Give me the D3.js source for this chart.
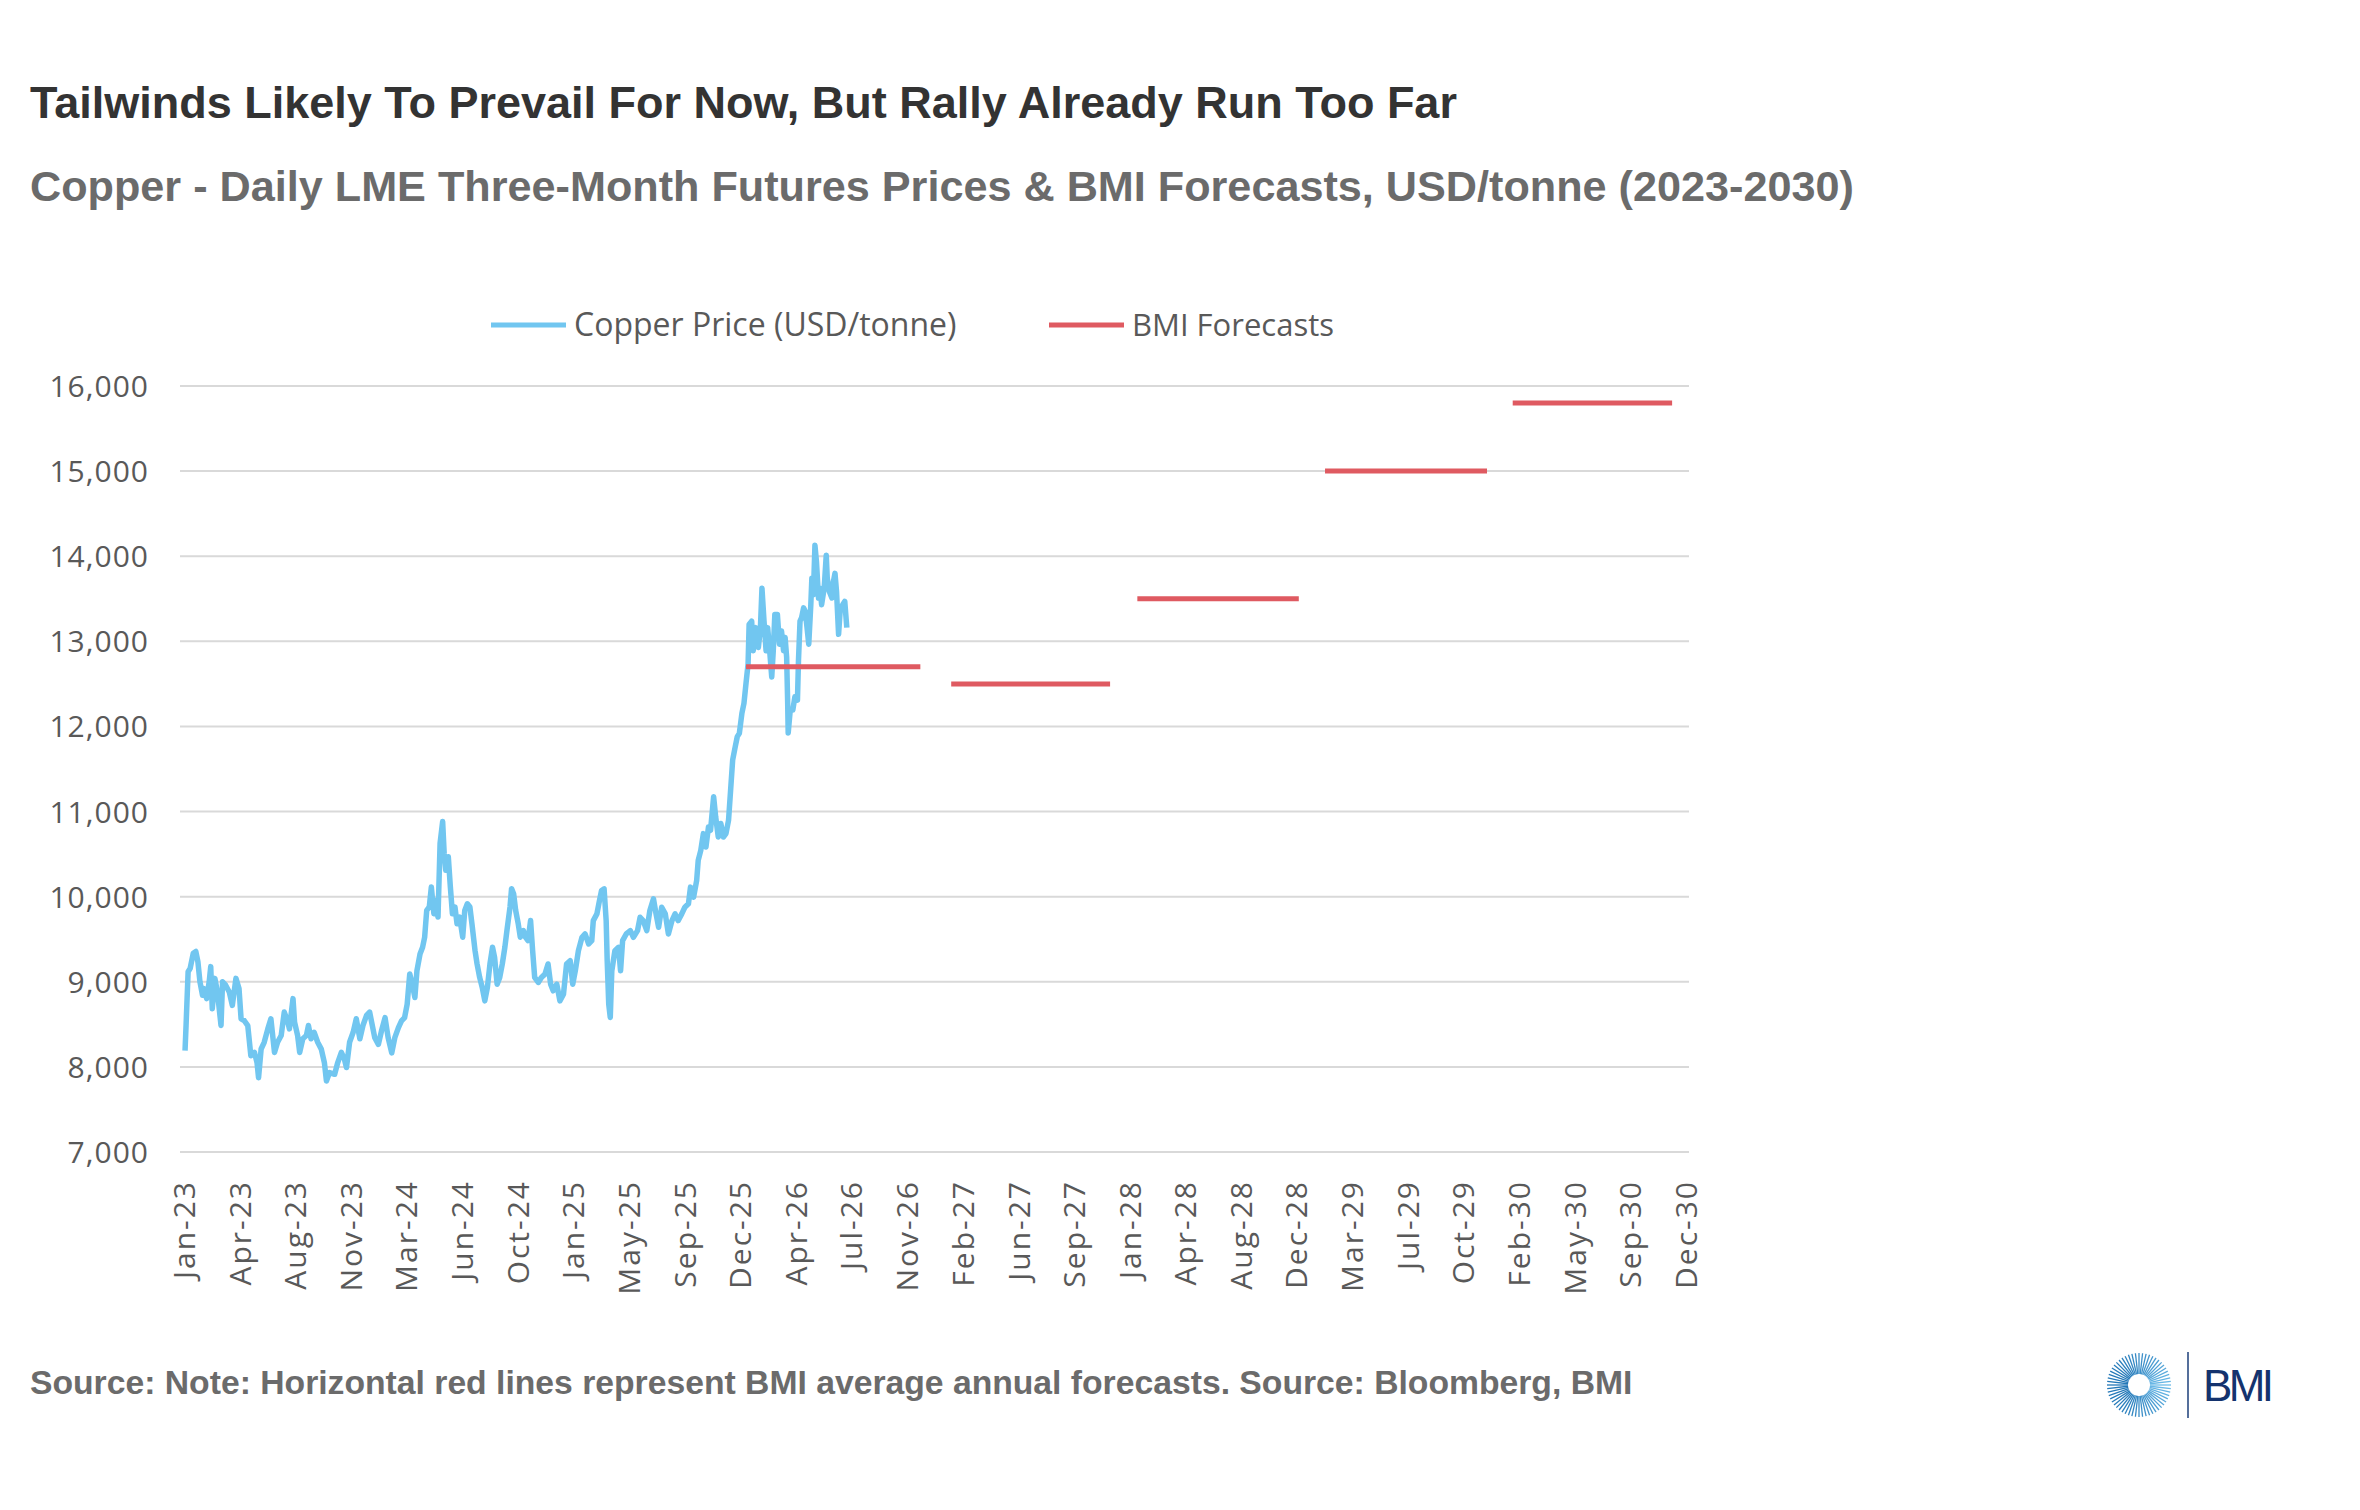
<!DOCTYPE html>
<html>
<head>
<meta charset="utf-8">
<script src="https://cdn.jsdelivr.net/npm/d3@7"></script>
<style>
  html, body { margin: 0; padding: 0; background: #ffffff; }
  svg text { font-family: "Liberation Sans", Arial, sans-serif; }
  .axis-label, .legend-label { font-family: "Open Sans", "Noto Sans", sans-serif; fill: #595959; }
</style>
</head>
<body>
<svg id="chart" width="2360" height="1510"></svg>
<script>
// ---- data ----

const priceDates = [
  "2023-01-03","2023-01-05","2023-01-09","2023-01-13","2023-01-19","2023-01-24","2023-01-28","2023-02-01",
  "2023-02-06","2023-02-09","2023-02-14","2023-02-19","2023-02-22","2023-02-25","2023-03-02","2023-03-07",
  "2023-03-14","2023-03-17","2023-03-23","2023-03-30","2023-04-05","2023-04-12","2023-04-18","2023-04-22",
  "2023-04-28","2023-05-05","2023-05-11","2023-05-18","2023-05-23","2023-05-26","2023-05-31","2023-06-06",
  "2023-06-13","2023-06-19","2023-06-26","2023-07-02","2023-07-09","2023-07-15","2023-07-22","2023-07-25",
  "2023-08-01","2023-08-04","2023-08-10","2023-08-14","2023-08-20","2023-08-27","2023-08-31","2023-09-05",
  "2023-09-11","2023-09-18","2023-09-25","2023-10-01","2023-10-05","2023-10-11","2023-10-21","2023-10-27",
  "2023-11-03","2023-11-09","2023-11-13","2023-11-19","2023-11-26","2023-12-02","2023-12-09","2023-12-15",
  "2023-12-22","2023-12-28",
  "2024-01-07","2024-01-14","2024-01-20","2024-01-27","2024-02-02","2024-02-09","2024-02-15","2024-02-22",
  "2024-02-28","2024-03-05","2024-03-10","2024-03-15","2024-03-20","2024-03-25","2024-03-29","2024-04-04",
  "2024-04-09","2024-04-13","2024-04-17","2024-04-22","2024-04-26","2024-05-01","2024-05-05","2024-05-09",
  "2024-05-13","2024-05-18","2024-05-21","2024-05-24","2024-05-29","2024-06-02","2024-06-06","2024-06-11",
  "2024-06-15","2024-06-20","2024-06-26","2024-06-30","2024-07-05","2024-07-10","2024-07-14","2024-07-20",
  "2024-07-24","2024-07-29","2024-08-03","2024-08-08","2024-08-13","2024-08-18","2024-08-23","2024-08-27",
  "2024-09-01","2024-09-06","2024-09-11","2024-09-16","2024-09-20","2024-09-26","2024-09-29","2024-10-03",
  "2024-10-07","2024-10-12","2024-10-16","2024-10-22","2024-10-26","2024-10-31","2024-11-05","2024-11-09",
  "2024-11-13","2024-11-20","2024-11-26","2024-12-03","2024-12-09","2024-12-14","2024-12-19","2024-12-26",
  "2025-01-01","2025-01-08","2025-01-14","2025-01-21","2025-01-26","2025-01-31","2025-02-06","2025-02-13",
  "2025-02-19","2025-02-26","2025-03-04","2025-03-07","2025-03-14","2025-03-19","2025-03-23","2025-03-28",
  "2025-04-01","2025-04-03","2025-04-06","2025-04-09","2025-04-12","2025-04-18","2025-04-25","2025-04-29",
  "2025-05-03","2025-05-10","2025-05-18","2025-05-24","2025-06-01","2025-06-06","2025-06-12","2025-06-19",
  "2025-06-25","2025-07-02","2025-07-07","2025-07-12","2025-07-18","2025-07-25","2025-07-31","2025-08-07",
  "2025-08-13","2025-08-19","2025-08-26","2025-09-01","2025-09-08","2025-09-12","2025-09-18","2025-09-24",
  "2025-09-27","2025-10-02","2025-10-07","2025-10-12","2025-10-17","2025-10-21","2025-10-27","2025-10-31",
  "2025-11-05","2025-11-10","2025-11-15","2025-11-20","2025-11-25","2025-11-29","2025-12-03","2025-12-08",
  "2025-12-12","2025-12-16","2025-12-21","2025-12-25","2025-12-29",
  "2026-01-02","2026-01-04","2026-01-09","2026-01-12","2026-01-17","2026-01-22","2026-01-26","2026-01-29",
  "2026-02-02","2026-02-06","2026-02-09","2026-02-12","2026-02-17","2026-02-20","2026-02-23","2026-02-28",
  "2026-03-04","2026-03-08","2026-03-12","2026-03-15","2026-03-18","2026-03-20","2026-03-21","2026-03-25",
  "2026-03-30","2026-04-03","2026-04-08","2026-04-10","2026-04-13","2026-04-16","2026-04-20","2026-04-23",
  "2026-04-26","2026-04-30","2026-05-04","2026-05-06","2026-05-09","2026-05-12","2026-05-15","2026-05-19",
  "2026-05-22","2026-05-25","2026-05-30","2026-06-03","2026-06-05","2026-06-09","2026-06-14","2026-06-17",
  "2026-06-20","2026-06-23","2026-06-27","2026-06-30","2026-07-05","2026-07-09","2026-07-13"
];

const priceValues = [
  8190, 8486, 9118, 9158, 9336, 9356, 9237, 9000,
  8842, 8920, 8802, 9000, 9178, 8684, 9040, 8880,
  8486, 9000, 8960, 8880, 8723, 9040, 8920, 8565,
  8545, 8486, 8130, 8170, 8051, 7873, 8210, 8289,
  8447, 8565, 8170, 8289, 8368, 8644, 8526, 8447,
  8802, 8526, 8368, 8170, 8330, 8368, 8486, 8330,
  8407, 8289, 8209, 8051, 7834, 7933, 7913, 8051,
  8170, 8090, 7992, 8289, 8407, 8565, 8330, 8486,
  8605, 8644,
  8343, 8264, 8421, 8579, 8343, 8165, 8343, 8461,
  8540, 8579, 8736, 9091, 8972, 8815, 9130, 9327,
  9406, 9524, 9839, 9878, 10114, 9799, 9957, 9760,
  10626, 10882, 10508, 10311, 10469, 10114, 9799, 9878,
  9681, 9760, 9524, 9839, 9917, 9878, 9681, 9366,
  9209, 9051, 8933, 8776, 8933, 9209, 9406, 9287,
  8972, 9051, 9209, 9406, 9602, 9878, 10094, 10035,
  9839, 9681, 9524, 9602, 9524, 9484, 9720, 9366,
  9051, 8992, 9051, 9090, 9209, 8972, 8894, 8972,
  8776, 8855, 9208, 9248, 8972, 9130, 9365, 9523,
  9562, 9444, 9483, 9719, 9798, 9955, 10073, 10092,
  9719, 9248, 8737, 8580, 9130, 9365, 9405, 9130,
  9483, 9562, 9601, 9523, 9601, 9758, 9719, 9601,
  9837, 9975, 9798, 9640, 9876, 9798, 9562, 9719,
  9798, 9719, 9798, 9876, 9916, 10112, 9994, 10190,
  10426, 10544, 10741, 10583, 10819, 10780, 11173, 10937,
  10701, 10859, 10701, 10741, 10898, 11251, 11605, 11762,
  11880, 11919, 12155, 12273, 12509,
  12735, 13199, 13238, 12890, 13161, 12928, 13161, 13625,
  13238, 12890, 13161, 12967, 12580, 12890, 13315, 13315,
  12967, 13122, 12890, 13045, 12812, 12271, 11923, 12193,
  12193, 12348, 12309, 12774, 13238, 13277, 13393, 13354,
  13199, 12967, 13431, 13741, 13547, 14128, 13934, 13509,
  13625, 13431, 13625, 14012, 13741, 13586, 13509, 13702,
  13799, 13586, 13083, 13354, 13431, 13470, 13161
];

// BMI average annual forecasts (drawn as flat segments)
const forecastYears  = [2026, 2027, 2028, 2029, 2030];
const forecastValues = [12700, 12500, 13500, 15000, 15800];
const forecastStart  = ["2025-12-29", "2027-02-01", "2028-01-29", "2029-01-28", "2030-01-28"];
const forecastEnd    = ["2026-12-03", "2027-12-07", "2028-12-08", "2029-12-09", "2030-12-04"];

// axis ticks
const xTickDates = [
  "2023-01-01","2023-04-19","2023-08-05","2023-11-21","2024-03-08","2024-06-25","2024-10-11",
  "2025-01-27","2025-05-15","2025-09-01","2025-12-18","2026-04-05","2026-07-22","2026-11-07",
  "2027-02-23","2027-06-12","2027-09-28","2028-01-14","2028-04-30","2028-08-17","2028-12-03",
  "2029-03-22","2029-07-08","2029-10-24","2030-02-09","2030-05-29","2030-09-14","2030-12-31"
];
const yTicks = [7000, 8000, 9000, 10000, 11000, 12000, 13000, 14000, 15000, 16000];

const legendItems = ["Copper Price (USD/tonne)", "BMI Forecasts"];

const titleText    = "Tailwinds Likely To Prevail For Now, But Rally Already Run Too Far";
const subtitleText = "Copper - Daily LME Three-Month Futures Prices & BMI Forecasts, USD/tonne (2023-2030)";
const footerText   = "Source: Note: Horizontal red lines represent BMI average annual forecasts. Source: Bloomberg, BMI";

// ---- setup ----

const colorPrice = "#71c6f0";
const colorForecast = "#df5a61";
const colorGrid = "#d9d9d9";

const parseDate = d3.timeParse("%Y-%m-%d");

const svg = d3.select("svg#chart");

const x = d3.scaleTime()
  .domain([parseDate("2023-01-01"), parseDate("2030-12-31")])
  .range([184, 1686]);

const y = d3.scaleLinear()
  .domain([7000, 16000])
  .range([1152, 386]);

function renderTitles() {
  svg.append("text")
    .attr("x", 30).attr("y", 118)
    .attr("font-size", 45).attr("font-weight", "bold")
    .attr("fill", "#333333")
    .text(titleText);

  svg.append("text")
    .attr("x", 30).attr("y", 201)
    .attr("font-size", 43.2).attr("font-weight", "bold")
    .attr("fill", "#6b6b6b")
    .text(subtitleText);

  svg.append("text")
    .attr("x", 30).attr("y", 1394)
    .attr("font-size", 33.7).attr("font-weight", "bold")
    .attr("fill", "#6b6b6b")
    .text(footerText);
}

function renderGrid() {
  svg.append("g").attr("class", "grid")
    .selectAll("line")
    .data(yTicks)
    .enter().append("line")
      .attr("x1", x.range()[0] - 4)
      .attr("x2", x.range()[1] + 3)
      .attr("y1", function(d) { return y(d); })
      .attr("y2", function(d) { return y(d); })
      .attr("stroke", colorGrid)
      .attr("stroke-width", 2);
}

function renderAxes() {
  // y axis: labels only, gridlines carry the ticks
  let yAxis = svg.append("g")
    .attr("transform", "translate(" + (x.range()[0] - 35) + ",0)")
    .call(d3.axisLeft(y).tickValues(yTicks).tickFormat(d3.format(",")).tickSize(0).tickPadding(0));
  yAxis.select(".domain").remove();
  yAxis.selectAll("text")
    .attr("class", "axis-label")
    .attr("font-size", 30)
    .attr("letter-spacing", 1)
    .attr("dy", "0.35em");

  // x axis: rotated date labels
  let xAxis = svg.append("g")
    .attr("transform", "translate(0," + (y.range()[0] + 28) + ")")
    .call(d3.axisBottom(x)
      .tickValues(xTickDates.map(parseDate))
      .tickFormat(d3.timeFormat("%b-%y"))
      .tickSize(0).tickPadding(0));
  xAxis.select(".domain").remove();
  xAxis.selectAll("text")
    .attr("class", "axis-label")
    .attr("font-size", 30)
    .attr("letter-spacing", 2)
    .style("text-anchor", "end")
    .attr("transform", "rotate(-90)")
    .attr("x", 0)
    .attr("y", 0)
    .attr("dx", 0)
    .attr("dy", "0.35em");
}

function renderSeries() {
  let prices = priceDates.map(function(d, i) {
    return { date: parseDate(d), value: priceValues[i] };
  });

  let line = d3.line()
    .x(function(d) { return x(d.date); })
    .y(function(d) { return y(d.value); });

  svg.append("path")
    .datum(prices)
    .attr("fill", "none")
    .attr("stroke", colorPrice)
    .attr("stroke-width", 5.5)
    .attr("stroke-linejoin", "round")
    .attr("d", line);

  let forecasts = forecastYears.map(function(yr, i) {
    return { year: yr, value: forecastValues[i],
             start: parseDate(forecastStart[i]), end: parseDate(forecastEnd[i]) };
  });

  svg.append("g").attr("class", "forecasts")
    .selectAll("line")
    .data(forecasts)
    .enter().append("line")
      .attr("x1", function(d) { return x(d.start); })
      .attr("x2", function(d) { return x(d.end); })
      .attr("y1", function(d) { return y(d.value); })
      .attr("y2", function(d) { return y(d.value); })
      .attr("stroke", colorForecast)
      .attr("stroke-width", 5);
}

function renderLegend() {
  let colors = [colorPrice, colorForecast];
  let xs = [491, 1049];
  let sizes = [32, 31];
  let g = svg.append("g").attr("class", "legend");

  let item = g.selectAll("g")
    .data(legendItems)
    .enter().append("g")
      .attr("transform", function(d, i) { return "translate(" + xs[i] + ",325)"; });

  item.append("line")
    .attr("x1", 0).attr("x2", 75)
    .attr("stroke", function(d, i) { return colors[i]; })
    .attr("stroke-width", 5);

  item.append("text")
    .attr("class", "legend-label")
    .attr("x", 83)
    .attr("dy", "0.35em")
    .attr("font-size", function(d, i) { return sizes[i]; })
    .text(function(d) { return d; });
}

function renderLogo() {
  let cx = 2139, cy = 1385;
  let n = 56;
  let logo = svg.append("g").attr("class", "logo");
  let rays = d3.range(0, n);
  let shade = d3.interpolateRgb("#6cbbe8", "#2378b8");

  logo.selectAll("line")
    .data(rays)
    .enter().append("line")
      .attr("x1", function(d) { return cx + 11 * Math.cos(d / n * 2 * Math.PI); })
      .attr("y1", function(d) { return cy + 11 * Math.sin(d / n * 2 * Math.PI); })
      .attr("x2", function(d) { return cx + 32 * Math.cos(d / n * 2 * Math.PI); })
      .attr("y2", function(d) { return cy + 32 * Math.sin(d / n * 2 * Math.PI); })
      .attr("stroke", function(d) { return shade(Math.abs(Math.sin(d / n * Math.PI))); })
      .attr("stroke-width", 1.3);

  logo.append("line")
    .attr("x1", 2188).attr("x2", 2188)
    .attr("y1", 1352).attr("y2", 1418)
    .attr("stroke", "#1d3f7a")
    .attr("stroke-width", 1.5);

  logo.append("text")
    .attr("x", 2203).attr("y", 1401)
    .attr("font-size", 44)
    .attr("fill", "#14336e")
    .attr("textLength", 71)
    .text("BMI");
}

renderTitles();
renderGrid();
renderAxes();
renderSeries();
renderLegend();
renderLogo();
</script>
</body>
</html>
